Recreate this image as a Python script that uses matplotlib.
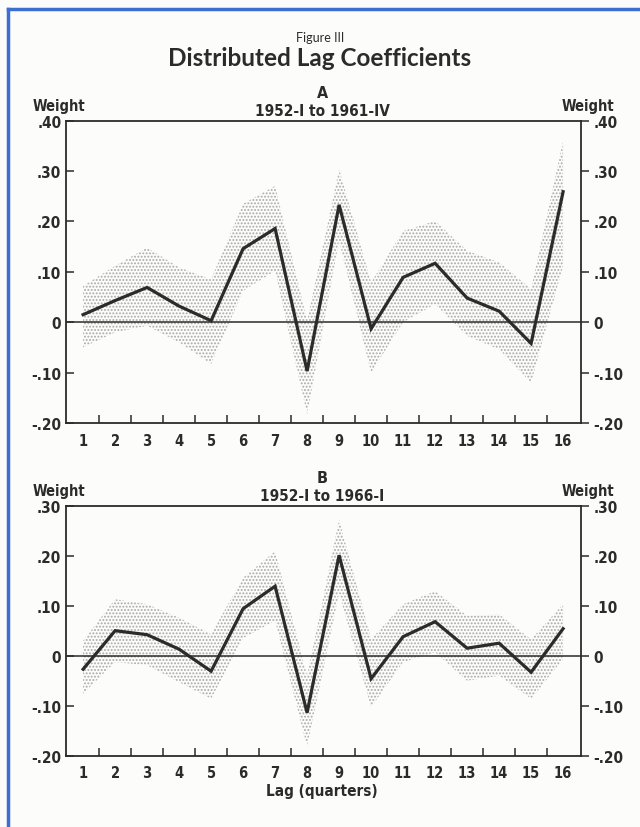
import matplotlib
matplotlib.use("Agg")
import matplotlib.pyplot as plt
from matplotlib.lines import Line2D
from matplotlib.ticker import FixedLocator, FuncFormatter

# ---------------- data ----------------
lags = list(range(1, 17))

coef_a = [0.015, 0.043, 0.069, 0.032, 0.003, 0.146, 0.186, -0.097,
          0.233, -0.013, 0.089, 0.117, 0.048, 0.022, -0.042, 0.259]
upper_a = [0.072, 0.112, 0.148, 0.109, 0.085, 0.235, 0.271, 0.003,
           0.304, 0.079, 0.181, 0.201, 0.142, 0.119, 0.066, 0.360]
lower_a = [-0.050, -0.020, -0.007, -0.040, -0.083, 0.062, 0.102, -0.183,
           0.162, -0.100, 0.000, 0.036, -0.027, -0.054, -0.120, 0.112]

coef_b = [-0.027, 0.050, 0.042, 0.013, -0.031, 0.094, 0.139, -0.114,
          0.201, -0.046, 0.038, 0.068, 0.015, 0.025, -0.033, 0.054]
upper_b = [0.030, 0.113, 0.103, 0.076, 0.043, 0.156, 0.209, -0.040,
           0.272, 0.033, 0.103, 0.129, 0.080, 0.083, 0.033, 0.103]
lower_b = [-0.076, -0.013, -0.019, -0.053, -0.086, 0.035, 0.070, -0.182,
           0.125, -0.103, -0.013, 0.007, -0.050, -0.040, -0.086, -0.007]

yticks_a = [-0.2, -0.1, 0.0, 0.1, 0.2, 0.3, 0.4]
yticks_b = [-0.2, -0.1, 0.0, 0.1, 0.2, 0.3]

fig_title = "Distributed Lag Coefficients"
fig_label = "Figure III"
panel_a = ("A", "1952-I to 1961-IV")
panel_b = ("B", "1952-I to 1966-I")
y_label = "Weight"
x_label = "Lag (quarters)"

# ---------------- style ----------------
NARROW = ["DejaVu Sans"]
TITLEF = ["Lato", "DejaVu Sans"]
INK = "#2b2b2b"
BG = "#fcfcfa"
plt.rcParams["hatch.linewidth"] = 0.9

NKW = dict(family=NARROW, fontweight="bold", fontstretch="condensed")


def fmt(v, pos=None):
    if abs(v) < 1e-9:
        return "0"
    s = "%.2f" % v
    return s.replace("0.", ".", 1)


fig = plt.figure(figsize=(6.4, 8.28), dpi=100, facecolor=BG)
W, H = 640.0, 828.0


def style_labels(labels):
    for t in labels:
        t.set_family(NARROW)
        t.set_fontweight("bold")
        t.set_fontstretch("condensed")


def make_panel(rect, coef, up, lo, yticks, ylim):
    ax = fig.add_axes(rect)
    ax.set_facecolor(BG)
    ax.fill_between(lags, lo, up, facecolor="none", edgecolor="#a8a8a8",
                    hatch=".....", linewidth=0, zorder=1)
    ax.axhline(0, color=INK, lw=1.1, zorder=2)
    ax.plot(lags, coef, color=INK, lw=2.3, solid_joinstyle="miter", zorder=3)
    ax.set_xlim(0.45, 16.55)
    ax.set_ylim(*ylim)
    for sp in ax.spines.values():
        sp.set_color(INK)
        sp.set_linewidth(1.3)
    # x: labels at lags, marks between lags
    ax.xaxis.set_major_locator(FixedLocator(lags))
    ax.xaxis.set_minor_locator(FixedLocator([l + 0.5 for l in lags[:-1]]))
    ax.tick_params(axis="x", which="major", length=0, pad=7,
                   labelsize=10.5, colors=INK)
    ax.tick_params(axis="x", which="minor", direction="in", length=5.5,
                   width=1.1, color=INK)
    style_labels(ax.get_xticklabels())
    # left y ticks (inward)
    ax.yaxis.set_major_locator(FixedLocator(yticks))
    ax.yaxis.set_major_formatter(FuncFormatter(fmt))
    ax.tick_params(axis="y", which="major", direction="in", left=True,
                   right=False, labelleft=True, labelright=False,
                   labelsize=11, colors=INK, width=1.1, length=6, pad=3)
    # right y ticks (outward)
    ax2 = ax.twinx()
    ax2.set_ylim(*ylim)
    ax2.yaxis.set_major_locator(FixedLocator(yticks))
    ax2.yaxis.set_major_formatter(FuncFormatter(fmt))
    ax2.tick_params(axis="y", direction="out", length=6, width=1.1,
                    colors=INK, labelsize=11, pad=3)
    for sp in ax2.spines.values():
        sp.set_visible(False)
    style_labels(ax.get_yticklabels())
    style_labels(ax2.get_yticklabels())
    return ax


left, right = 65.5, 580.7
# panel A
top_a, bot_a = 121.7, 424.0
rect_a = [left / W, 1 - bot_a / H, (right - left) / W, (bot_a - top_a) / H]
make_panel(rect_a, coef_a, upper_a, lower_a, yticks_a, (-0.2, 0.4))

# panel B
top_b, bot_b = 506.7, 756.7
rect_b = [left / W, 1 - bot_b / H, (right - left) / W, (bot_b - top_b) / H]
make_panel(rect_b, coef_b, upper_b, lower_b, yticks_b, (-0.2, 0.3))


def ftext(x, y, s, **kw):
    fig.text(x / W, 1 - y / H, s, color=INK, **kw)


ftext(320, 38, fig_label, ha="center", va="center", fontsize=9,
      family=TITLEF)
ftext(320, 59, fig_title, ha="center", va="center", fontsize=17.5,
      family=TITLEF, fontweight="bold")

for head, ty in ((panel_a, top_a), (panel_b, top_b)):
    ftext(322, ty - 28, head[0], ha="center", va="center", fontsize=11.5,
          **NKW)
    ftext(322, ty - 10, head[1], ha="center", va="center", fontsize=11,
          **NKW)
    ftext(59, ty - 15, y_label, ha="center", va="center", fontsize=10.5,
          family=NARROW, fontweight="heavy", fontstretch="condensed")
    ftext(588, ty - 15, y_label, ha="center", va="center", fontsize=10.5,
          family=NARROW, fontweight="heavy", fontstretch="condensed")

ftext(322, 792, x_label, ha="center", va="center", fontsize=11, **NKW)

# blue frame (top and left edges only)
fig.lines.append(Line2D([8 / W, 1.0], [1 - 10 / H, 1 - 10 / H],
                        transform=fig.transFigure, color="#3d6fd1", lw=2.5))
fig.lines.append(Line2D([8 / W, 8 / W], [1 - 10 / H, 0.0],
                        transform=fig.transFigure, color="#3d6fd1", lw=2.5))

fig.savefig("out.png", dpi=100, facecolor=BG)
